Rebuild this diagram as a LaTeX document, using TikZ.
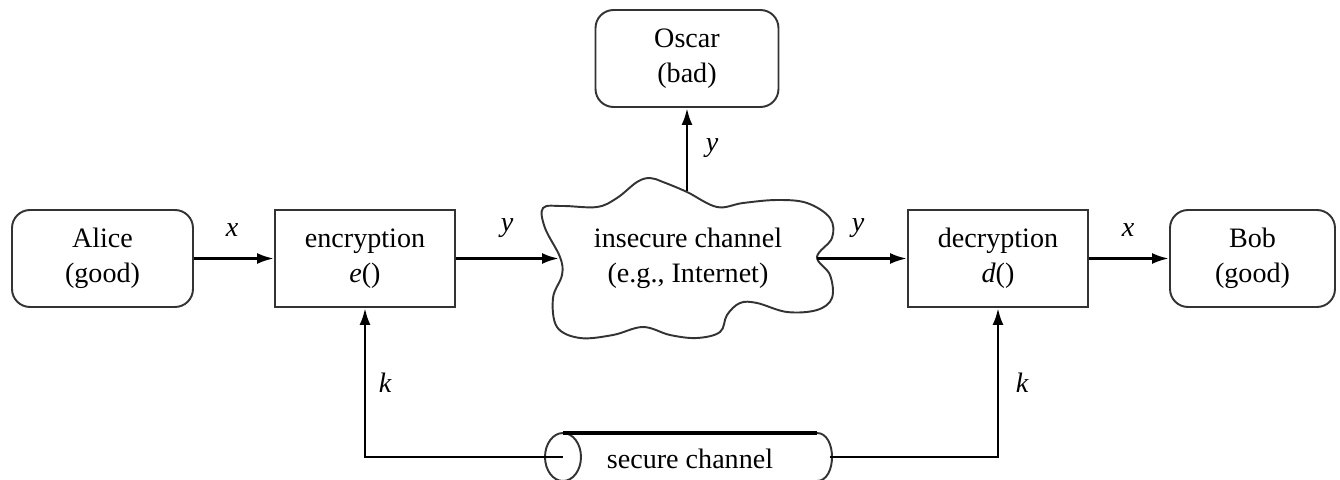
\documentclass[tikz,border=0pt]{standalone}
\usepackage{fontspec}
\setmainfont{Liberation Serif}
\usetikzlibrary{arrows.meta}
\begin{document}
\begin{tikzpicture}[x=0.02cm,y=-0.02cm,
 box/.style={draw=black!80,line width=1.1pt,minimum height=1.94cm,inner sep=0pt,align=center,font=\fontsize{16}{20}\selectfont},
 rbox/.style={box,rounded corners=0.36cm},
 conn/.style={line width=1.6pt,-{Latex[length=0.34cm,width=0.22cm]}},
 lab/.style={font=\fontsize{16}{20}\selectfont\itshape,inner sep=0pt},
 txt/.style={font=\fontsize{16}{20}\selectfont,align=center,inner sep=0pt}]
\useasboundingbox (0,0) rectangle (1340,480);
% nodes
\node[rbox,minimum width=3.62cm] (alice) at (102.5,258.5) {Alice\\(good)};
\node[box,minimum width=3.6cm] (enc) at (365,258.5) {encryption\\\textit{e}()};
\node[box,minimum width=3.6cm] (dec) at (998,258.5) {decryption\\\textit{d}()};
\node[rbox,minimum width=3.3cm] (bob) at (1252.5,258.5) {Bob\\(good)};
\node[rbox,minimum width=3.66cm] (oscar) at (687,58.5) {Oscar\\(bad)};
% cloud
\draw[black!80,line width=1.1pt] plot[smooth cycle,tension=0.6] coordinates {
 (543,208) (563,206) (597,207) (617,198) (637,182) (650,178) (663,182) (687,192)
 (717,207) (743,203) (777,200) (807,203) (830,218) (832,238) (817,257) (830,275)
 (832,298) (817,310) (787,312) (757,303) (740,303) (727,315) (720,332) (697,338)
 (670,335) (643,327) (613,335) (580,338) (557,327) (553,298) (562,275) (560,257)
 (545,228)};
\node[txt] (cloud) at (688,258) {insecure channel\\(e.g., Internet)};
\coordinate (cloudL) at (559,258.5);
\coordinate (cloudR) at (817,258.5);
\coordinate (cloudT) at (687,191);
% secure channel
\draw[black!80,line width=1.1pt] (563,457) ellipse [x radius=0.36cm,y radius=0.48cm];
\draw[black!80,line width=1.1pt] (817,433) .. controls (837,433) and (837,481) .. (817,481);
\draw[black!80,line width=1.1pt] (563,481) -- (817,481);
\draw[line width=2.8pt] (563,433) -- (817,433);
\node[txt] (sc) at (690,459) {secure channel};
\coordinate (scL) at (563,457);
\coordinate (scR) at (830,457);
% connectors
\draw[conn] (alice.east) -- (enc.west);
\draw[conn] (enc.east) -- (cloudL);
\draw[conn] (cloudR) -- (dec.west);
\draw[conn] (dec.east) -- (bob.west);
\draw[conn] (cloudT) -- (oscar.south);
\draw[conn] (scL) -| (enc.south);
\draw[conn] (scR) -| (dec.south);
% labels
\node[lab] (lx1) at (232,230) {x};
\node[lab] (ly1) at (507,228) {y};
\node[lab] (ly2) at (858,228) {y};
\node[lab] (lx2) at (1128,230) {x};
\node[lab] (ly3) at (712,148) {y};
\node[lab] (lk1) at (385,383) {k};
\node[lab] (lk2) at (1022,383) {k};
\end{tikzpicture}
\end{document}
